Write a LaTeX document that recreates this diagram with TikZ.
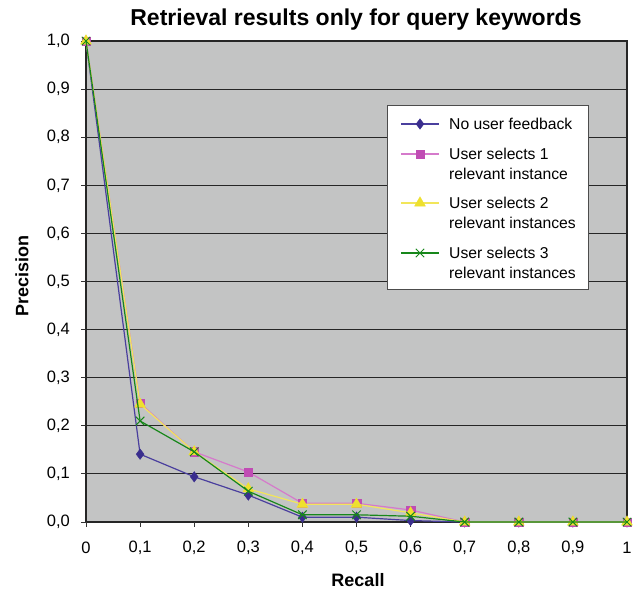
\documentclass[tikz,border=0pt]{standalone}
\usepackage{fontspec}
\setmainfont{Liberation Sans}
\usetikzlibrary{plotmarks}
\definecolor{plotgray}{HTML}{C3C4C4}
\definecolor{serA}{HTML}{3A2E8E}
\definecolor{serAl}{HTML}{4A3F9E}
\definecolor{serB}{HTML}{C04CB4}
\definecolor{serBl}{HTML}{D57ACB}
\definecolor{serC}{HTML}{EEE02E}
\definecolor{serCl}{HTML}{F2E65A}
\definecolor{serD}{HTML}{17871A}
\tikzset{
  ticklab/.style={font=\fontsize{16.5}{18}\selectfont, inner sep=0pt},
  axlab/.style={font=\fontsize{18}{20}\selectfont\bfseries, inner sep=0pt},
  titlelab/.style={font=\fontsize{23}{25}\selectfont\bfseries, inner sep=0pt},
  legtext/.style={font=\fontsize{15.7}{20}\selectfont, inner sep=0pt, anchor=west, align=left},
  gridl/.style={line width=0.9pt, black!85},
  lineA/.style={serAl, line width=1.2pt, mark=diamond*, mark size=5.3pt, mark options={fill=serA, draw=serA, line width=0.3pt}},
  lineB/.style={serBl, line width=1.2pt, mark=square*, mark size=4.2pt, mark options={fill=serB, draw=serB, line width=0.3pt}},
  lineC/.style={serCl, line width=1.2pt, mark=triangle*, mark size=6.3pt, mark options={fill=serC, draw=serC, line width=0.3pt}},
  lineD/.style={serD, line width=1.2pt, mark=x, mark size=6pt, mark options={draw=serD, line width=1pt}},
}
\begin{document}
\begin{tikzpicture}[x=1pt,y=-1pt]
\useasboundingbox[fill=white] (0,0) rectangle (638,594);
% plot area
\fill[plotgray] (86,41) rectangle (627,522);
\foreach \g in {89.1,137.2,185.3,233.4,281.5,329.6,377.7,425.8,473.9}
  \draw[gridl] (86,\g) -- (627,\g);
\draw[line width=1.1pt, black!85] (86,41) -- (627,41) -- (627,522);
\draw[line width=1.1pt, black!85] (86,41) -- (86,522) -- (627,522);
% ticks
\foreach \i in {0,...,10}{
  \draw[line width=0.9pt, black!80] (81,{522-48.1*\i}) -- (86,{522-48.1*\i});
  \draw[line width=0.9pt, black!80] ({86+54.1*\i},522) -- ({86+54.1*\i},527);
}
% y tick labels
\foreach \i/\t in {0/{0,0},1/{0,1},2/{0,2},3/{0,3},4/{0,4},5/{0,5},6/{0,6},7/{0,7},8/{0,8},9/{0,9},10/{1,0}}
  \node[ticklab, anchor=east] (yl\i) at (70,{522-48.1*\i}) {\t};
% x tick labels
\foreach \i/\t in {0/0,1/{0,1},2/{0,2},3/{0,3},4/{0,4},5/{0,5},6/{0,6},7/{0,7},8/{0,8},9/{0,9},10/1}
  \node[ticklab] (xl\i) at ({86+54.1*\i},548) {\t};
% titles
\node[titlelab] (title) at (356,20) {Retrieval results only for query keywords};
\node[axlab] (xlabel) at (358,580) {Recall};
\node[axlab, rotate=90] (ylabel) at (22,276) {Precision};
% data
\begin{scope}[shift={(86,522)}, x=541pt, y=481pt]
\draw[lineA] plot coordinates {(0,1) (0.1,0.141) (0.2,0.094) (0.3,0.056) (0.4,0.01) (0.5,0.01) (0.6,0.003) (0.7,0) (0.8,0) (0.9,0) (1,0)};
\draw[lineB] plot coordinates {(0,1) (0.1,0.247) (0.2,0.146) (0.3,0.104) (0.4,0.039) (0.5,0.039) (0.6,0.025) (0.7,0) (0.8,0) (0.9,0) (1,0)};
\draw[lineC] plot coordinates {(0,1) (0.1,0.245) (0.2,0.146) (0.3,0.069) (0.4,0.037) (0.5,0.037) (0.6,0.019) (0.7,0) (0.8,0) (0.9,0) (1,0)};
\draw[lineD] plot coordinates {(0,1) (0.1,0.21) (0.2,0.146) (0.3,0.064) (0.4,0.015) (0.5,0.015) (0.6,0.012) (0.7,0) (0.8,0) (0.9,0) (1,0)};
\end{scope}
% legend
\draw[fill=white, draw=black!70, line width=0.8pt] (387,105) rectangle (588,289);
\draw[lineA, mark indices={2}] plot coordinates {(401,124) (420,124) (439,124)};
\node[legtext] (lA) at (449,124) {No user feedback};
\draw[lineB, mark indices={2}] plot coordinates {(401,154) (420,154) (439,154)};
\node[legtext] (lB) at (449,164) {User selects 1\\relevant instance};
\draw[lineC, mark indices={2}] plot coordinates {(401,203) (420,203) (439,203)};
\node[legtext] (lC) at (449,213) {User selects 2\\relevant instances};
\draw[lineD, mark indices={2}] plot coordinates {(401,253) (420,253) (439,253)};
\node[legtext] (lD) at (449,263) {User selects 3\\relevant instances};
\end{tikzpicture}
\end{document}
